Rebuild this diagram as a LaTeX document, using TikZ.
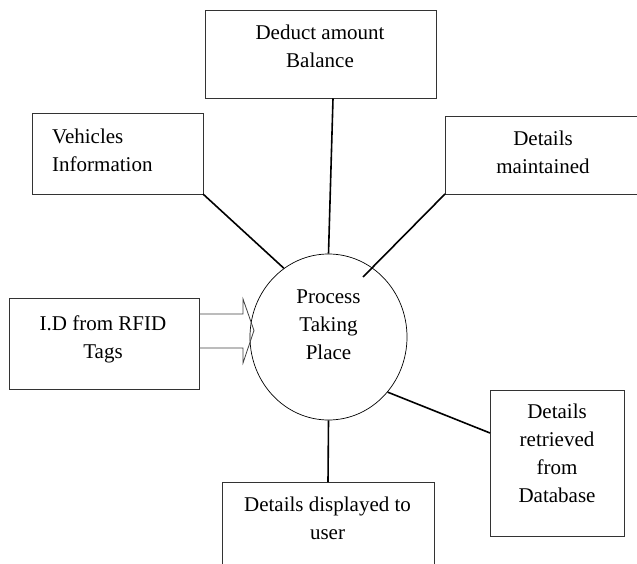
\documentclass[tikz,border=0pt]{standalone}
\usepackage{fontspec}
\setmainfont{Liberation Serif}
\usetikzlibrary{shapes.geometric,calc}

\tikzset{
    box/.style={draw=black!80, line width=0.9pt, rectangle, inner sep=0pt, outer sep=0pt},
    txt/.style={font=\fontsize{21}{28}\selectfont, align=center, inner sep=0pt},
    link/.style={line width=1.6pt, black},
}

\begin{document}
\begin{tikzpicture}[x=1pt, y=-1pt]
    \useasboundingbox (0,0) rectangle (637,564);
    % process bubble in the middle
    \node[draw, ellipse, line width=0.7pt, minimum width=157, minimum height=166, inner sep=0pt] (Proc) at (328.5,337) {};
    \node[txt] (ProcText) at (328.5,325) {Process\\Taking\\Place};
    % boxes round it
    \node[box, minimum width=231, minimum height=88.5] (Deduct) at (320.5,54.25) {};
    \node[txt] (DeductText) at (320,46) {Deduct amount\\Balance};
    \node[box, minimum width=171, minimum height=81] (Vehicles) at (117.5,153.5) {};
    \node[txt, align=left, anchor=west] (VehiclesText) at (52,150) {Vehicles\\Information};
    \node[box, minimum width=196, minimum height=78] (Maintained) at (543,155) {};
    \node[txt] (MaintainedText) at (543,152) {Details\\maintained};
    \node[box, minimum width=190, minimum height=91] (Rfid) at (104,343.5) {};
    \node[txt] (RfidText) at (103,339) {I.D from RFID\\Tags};
    \node[box, minimum width=134, minimum height=146] (Database) at (557,463) {};
    \node[txt] (DatabaseText) at (557,453.5) {Details\\retrieved\\from\\Database};
    \node[box, minimum width=212, minimum height=89] (Displayed) at (328,526.5) {};
    \node[txt] (DisplayedText) at (327.5,518) {Details displayed to\\user};
    % loose ends inside the bubble
    \coordinate (MaintEnd) at ($(Proc.center)+(34.5,-60)$);
    \coordinate (DeductEnd) at ([xshift=12.5pt]Deduct.south);
    \coordinate (DatabaseEnd) at ($(Database.west)+(0,-30)$);
    % connectors
    \draw[link] (DeductEnd) -- (Proc.north);
    \draw[link] (Vehicles.south east) -- (Proc.123);
    \draw[link] (Maintained.south west) -- (MaintEnd);
    \draw[link] (DatabaseEnd) -- (Proc.-43);
    \draw[link] (Proc.south) -- (Displayed.north);
    % block arrow from the tags
    \draw[line width=0.8pt, black!75, line join=miter] (Rfid.east) ++(0,-29.5) coordinate (Feed)
        -- ++(44,0) -- ++(0,-15) -- ++(11,31.5) -- ++(-11,32.5) -- ++(0,-15) -- ++(-44,0);
\end{tikzpicture}
\end{document}
